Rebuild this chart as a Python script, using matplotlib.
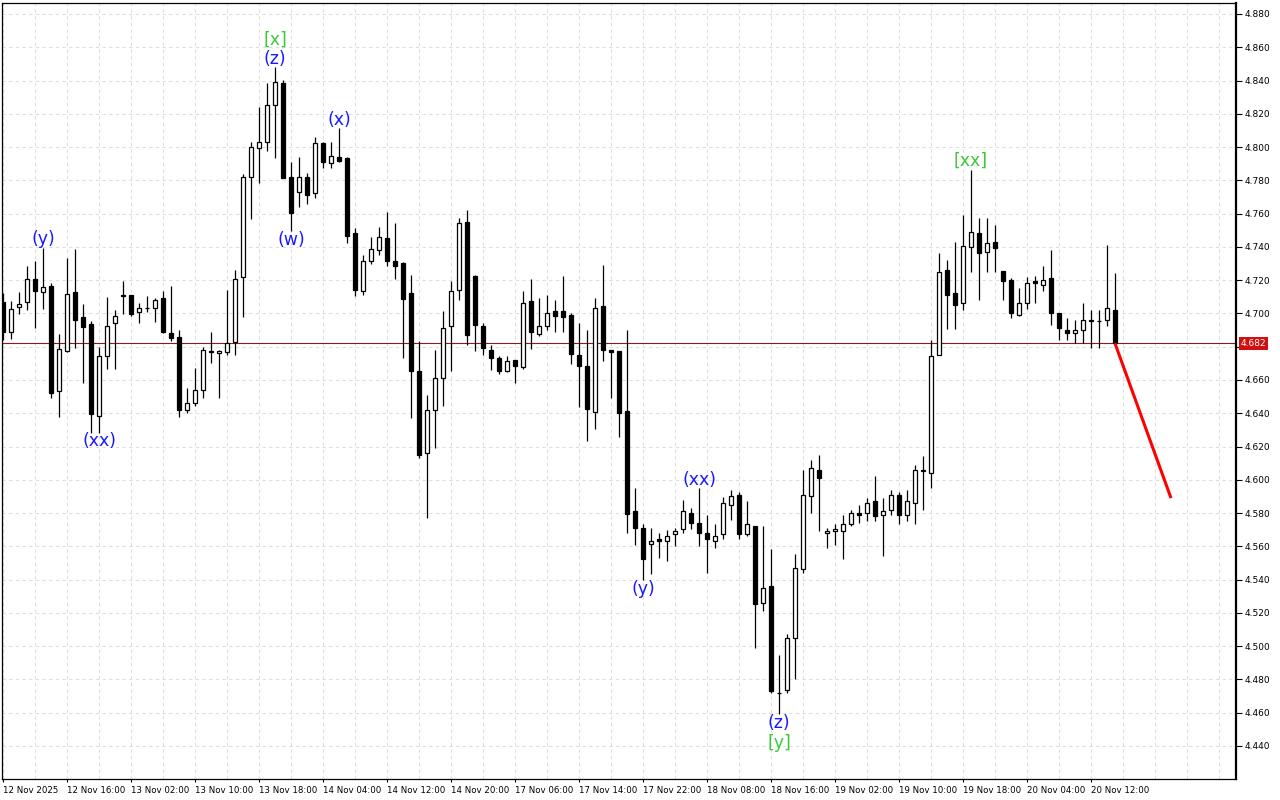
"""Hourly candlestick chart with wave labels and a forecast line, MetaTrader look."""
import matplotlib
matplotlib.use("Agg")
import matplotlib.pyplot as plt
import matplotlib.transforms as mtransforms
import numpy as np

# OHLC per bar, bar index 0..139
opens = [4.707, 4.689, 4.7037, 4.7067, 4.7205, 4.7127, 4.7164, 4.6532, 4.6775, 4.713,
         4.6977, 4.6935, 4.6382, 4.6743, 4.694, 4.711, 4.711, 4.701, 4.703, 4.703,
         4.709, 4.688, 4.686, 4.642, 4.646, 4.6538, 4.6774, 4.676, 4.677, 4.683,
         4.722, 4.7818, 4.7993, 4.803, 4.8251, 4.8384, 4.782, 4.7728, 4.782, 4.7722,
         4.8022, 4.7902, 4.7938, 4.7932, 4.7482, 4.7132, 4.7318, 4.738, 4.7454, 4.7316,
         4.7302, 4.7122, 4.6654, 4.6162, 4.642, 4.6612, 4.6922, 4.714, 4.7548, 4.7226,
         4.6926, 4.678, 4.6732, 4.6652, 4.672, 4.668, 4.7074, 4.6878, 4.6922, 4.7012,
         4.7012, 4.699, 4.675, 4.6682, 4.641, 4.7044, 4.678, 4.6774, 4.6412, 4.5814,
         4.571, 4.5616, 4.5644, 4.563, 4.5674, 4.5704, 4.580, 4.574, 4.568, 4.5634,
         4.5674, 4.585, 4.5908, 4.5674, 4.5722, 4.526, 4.5364, 4.472, 4.4734, 4.505,
         4.5466, 4.590, 4.606, 4.568, 4.5692, 4.5692, 4.5734, 4.580, 4.580, 4.5874,
         4.5788, 4.582, 4.591, 4.5786, 4.5862, 4.6052, 4.6042, 4.6748, 4.7262, 4.7122,
         4.7062, 4.7398, 4.7482, 4.7368, 4.7428, 4.7256, 4.7202, 4.6988, 4.7062, 4.7196,
         4.717, 4.7212, 4.7002, 4.6902, 4.6882, 4.6902, 4.6962, 4.6956, 4.6962, 4.7022]
highs = [4.712, 4.7075, 4.713, 4.7286, 4.7316, 4.7396, 4.718, 4.6875, 4.7332, 4.7386,
         4.7055, 4.6955, 4.6799, 4.710, 4.702, 4.7194, 4.7112, 4.706, 4.7104, 4.709,
         4.7136, 4.7166, 4.690, 4.655, 4.667, 4.680, 4.689, 4.678, 4.714, 4.726,
         4.784, 4.803, 4.824, 4.8388, 4.848, 4.8404, 4.7909, 4.794, 4.7846, 4.8058,
         4.8028, 4.8028, 4.8112, 4.7938, 4.7516, 4.7352, 4.746, 4.752, 4.7608, 4.7542,
         4.7312, 4.7232, 4.6834, 4.6512, 4.6782, 4.7016, 4.7196, 4.7572, 4.7622, 4.7232,
         4.6942, 4.681, 4.6746, 4.6746, 4.672, 4.7134, 4.721, 4.709, 4.711, 4.708,
         4.7224, 4.7004, 4.6942, 4.690, 4.709, 4.7292, 4.678, 4.6774, 4.690, 4.595,
         4.5734, 4.571, 4.568, 4.570, 4.571, 4.5876, 4.583, 4.595, 4.579, 4.5734,
         4.5894, 4.594, 4.5924, 4.5874, 4.5722, 4.5724, 4.5586, 4.4944, 4.5076, 4.5554,
         4.6056, 4.612, 4.615, 4.571, 4.5734, 4.579, 4.582, 4.585, 4.589, 4.6024,
         4.589, 4.5936, 4.5924, 4.594, 4.6086, 4.6146, 4.6842, 4.7362, 4.7322, 4.7432,
         4.7592, 4.7862, 4.7572, 4.7572, 4.7532, 4.7256, 4.7212, 4.7152, 4.7222, 4.7226,
         4.7286, 4.7382, 4.7002, 4.6972, 4.6958, 4.7062, 4.7022, 4.7018, 4.7412, 4.7246]
lows = [4.684, 4.6845, 4.6995, 4.7023, 4.6915, 4.7025, 4.6494, 4.638, 4.677, 4.6795,
        4.6584, 4.6284, 4.6284, 4.6665, 4.6666, 4.6998, 4.6986, 4.694, 4.701, 4.695,
        4.688, 4.6836, 4.638, 4.640, 4.6444, 4.649, 4.670, 4.649, 4.675, 4.675,
        4.698, 4.757, 4.7786, 4.7979, 4.7933, 4.7812, 4.7498, 4.7638, 4.766, 4.7692,
        4.7876, 4.7872, 4.7912, 4.7426, 4.7102, 4.7108, 4.7298, 4.7352, 4.7288, 4.721,
        4.673, 4.6372, 4.6132, 4.5772, 4.6192, 4.6442, 4.6652, 4.7078, 4.6808, 4.6772,
        4.6748, 4.6658, 4.6638, 4.665, 4.658, 4.6666, 4.6786, 4.6866, 4.690, 4.689,
        4.689, 4.6698, 4.644, 4.6236, 4.6306, 4.6716, 4.649, 4.626, 4.568, 4.561,
        4.540, 4.5436, 4.553, 4.551, 4.560, 4.568, 4.5704, 4.560, 4.544, 4.5588,
        4.5644, 4.576, 4.5644, 4.5664, 4.4988, 4.521, 4.472, 4.459, 4.472, 4.480,
        4.544, 4.580, 4.569, 4.559, 4.561, 4.5524, 4.572, 4.574, 4.575, 4.5754,
        4.554, 4.5788, 4.5734, 4.575, 4.5732, 4.5818, 4.5952, 4.6748, 4.6908, 4.6908,
        4.7018, 4.7252, 4.7078, 4.7248, 4.7248, 4.7078, 4.6972, 4.6982, 4.7028, 4.7062,
        4.7136, 4.6932, 4.6838, 4.6838, 4.6822, 4.6822, 4.6792, 4.6792, 4.6922, 4.682]
closes = [4.689, 4.7025, 4.7055, 4.7205, 4.7133, 4.7158, 4.6524, 4.6785, 4.7115, 4.6963,
          4.6921, 4.6394, 4.6743, 4.6923, 4.6982, 4.7104, 4.6998, 4.703, 4.703, 4.7078,
          4.689, 4.685, 4.642, 4.646, 4.654, 4.6778, 4.677, 4.6775, 4.682, 4.721,
          4.782, 4.7999, 4.803, 4.8251, 4.8392, 4.7816, 4.7606, 4.782, 4.7712, 4.8022,
          4.7908, 4.7948, 4.7918, 4.7468, 4.7138, 4.7318, 4.739, 4.746, 4.7318, 4.7288,
          4.7088, 4.6652, 4.6148, 4.642, 4.6612, 4.6912, 4.7136, 4.7542, 4.6868, 4.6928,
          4.679, 4.673, 4.6652, 4.6712, 4.6686, 4.706, 4.689, 4.6922, 4.700, 4.6986,
          4.698, 4.6758, 4.6686, 4.6428, 4.703, 4.678, 4.677, 4.640, 4.5796, 4.571,
          4.5524, 4.563, 4.563, 4.566, 4.569, 4.5814, 4.574, 4.568, 4.5644, 4.566,
          4.586, 4.590, 4.5674, 4.5734, 4.5254, 4.535, 4.473, 4.472, 4.505, 4.547,
          4.591, 4.607, 4.601, 4.5694, 4.5704, 4.5734, 4.580, 4.5786, 4.586, 4.578,
          4.5814, 4.5908, 4.5786, 4.587, 4.6058, 4.6056, 4.6742, 4.7252, 4.7108, 4.7048,
          4.7408, 4.7488, 4.7362, 4.7422, 4.7392, 4.7198, 4.7002, 4.7062, 4.7182, 4.7182,
          4.7202, 4.7002, 4.691, 4.6882, 4.6902, 4.6962, 4.6952, 4.6954, 4.7032, 4.682]

# time axis labels, one every 8 bars
time_labels = ["12 Nov 2025", "12 Nov 16:00", "13 Nov 02:00", "13 Nov 10:00",
               "13 Nov 18:00", "14 Nov 04:00", "14 Nov 12:00", "14 Nov 20:00",
               "17 Nov 06:00", "17 Nov 14:00", "17 Nov 22:00", "18 Nov 08:00",
               "18 Nov 16:00", "19 Nov 02:00", "19 Nov 10:00", "19 Nov 18:00",
               "20 Nov 04:00", "20 Nov 12:00"]
price_ticks = [4.440, 4.460, 4.480, 4.500, 4.520, 4.540, 4.560, 4.580, 4.600, 4.620,
               4.640, 4.660, 4.680, 4.700, 4.720, 4.740, 4.760, 4.780, 4.800, 4.820,
               4.840, 4.860, 4.880]

# wave labels: bar index, price level, text, degree ("minor" blue, "major" green)
wave_bar = [5, 12, 34, 34, 36, 42, 80, 87, 97, 97, 121]
wave_price = [4.7448, 4.6233, 4.8644, 4.8530, 4.7442, 4.8163, 4.5344, 4.5999, 4.4538, 4.4418, 4.7916]
wave_text = ["(y)", "(xx)", "[x]", "(z)", "(w)", "(x)", "(y)", "(xx)", "(z)", "[y]", "[xx]"]
wave_degree = ["minor", "minor", "major", "minor", "minor", "minor", "minor", "minor",
               "minor", "major", "major"]

# forecast: from the last close to the target
forecast_bar = [139, 146]
forecast_price = [4.682, 4.589]

WAVE_COLORS = {"minor": "#1a1aff", "major": "#3cc83c"}


def _draw_candles(ax, o, h, l, c):
    o, h, l, c = map(np.asarray, (o, h, l, c))
    idx = np.arange(len(o))
    ax.vlines(idx, l, h, color="black", linewidth=0.9, zorder=3)
    up = c >= o
    bottom = np.minimum(o, c)
    height = np.abs(c - o)
    ax.bar(idx[up], height[up], bottom=bottom[up], width=0.45,
           facecolor="white", edgecolor="black", linewidth=0.9, zorder=4)
    ax.bar(idx[~up], height[~up], bottom=bottom[~up], width=0.45,
           facecolor="black", edgecolor="black", linewidth=0.9, zorder=4)


def main():
    fig = plt.figure(figsize=(12.8, 8), dpi=100)
    ax = fig.add_axes([2 / 1280, 21 / 800, 1234 / 1280, 776 / 800])

    n = len(closes)
    ax.set_xlim(-0.125, 154.125)
    ax.set_ylim(4.42015, 4.88661)

    # grid: every 4 bars and every 0.02
    for gx in range(0, 155, 4):
        ax.axvline(gx, color="#dedede", linewidth=0.8, linestyle=(0, (3, 3)), zorder=1)
    for gy in price_ticks:
        ax.axhline(gy, color="#dedede", linewidth=0.8, linestyle=(0, (3, 3)), zorder=1)

    _draw_candles(ax, opens, highs, lows, closes)

    # current price line and tag
    last = closes[-1]
    ax.axhline(last, color="#8b1a1a", linewidth=0.8, zorder=2)
    trans = mtransforms.blended_transform_factory(ax.transAxes, ax.transData)
    ax.text(1.0035, last, f"{last:.3f}", transform=trans, ha="left", va="center",
            fontsize=6.5, color="white", clip_on=False,
            bbox=dict(boxstyle="square,pad=0.2", facecolor="#d01010", edgecolor="none"))

    # forecast
    ax.plot(forecast_bar, forecast_price, color="#ff0000", linewidth=2.2,
            solid_capstyle="butt", zorder=5)

    for b, p, t, d in zip(wave_bar, wave_price, wave_text, wave_degree):
        ax.text(b, p, t, ha="center", va="center", fontsize=12.5,
                color=WAVE_COLORS[d], zorder=6)

    # axes look; the price tag hides the scale label it sits on
    ax.yaxis.tick_right()
    ax.set_yticks(price_ticks)
    ax.set_yticklabels(["" if abs(v - last) < 0.005 else f"{v:.3f}" for v in price_ticks])
    ax.tick_params(axis="y", direction="out", length=4, width=0.8, pad=2,
                   labelsize=6.5, colors="black")
    xt = list(range(0, n, 8))
    ax.set_xticks(xt)
    ax.set_xticklabels(time_labels, ha="left")
    ax.tick_params(axis="x", direction="out", length=2, width=0.8, pad=3, labelsize=6.2)
    for side in ("left", "top", "bottom"):
        ax.spines[side].set_linewidth(0.9)
    ax.spines["right"].set_linewidth(1.6)

    fig.savefig("out.png", dpi=100, facecolor="white")
    plt.close(fig)


if __name__ == "__main__":
    main()
